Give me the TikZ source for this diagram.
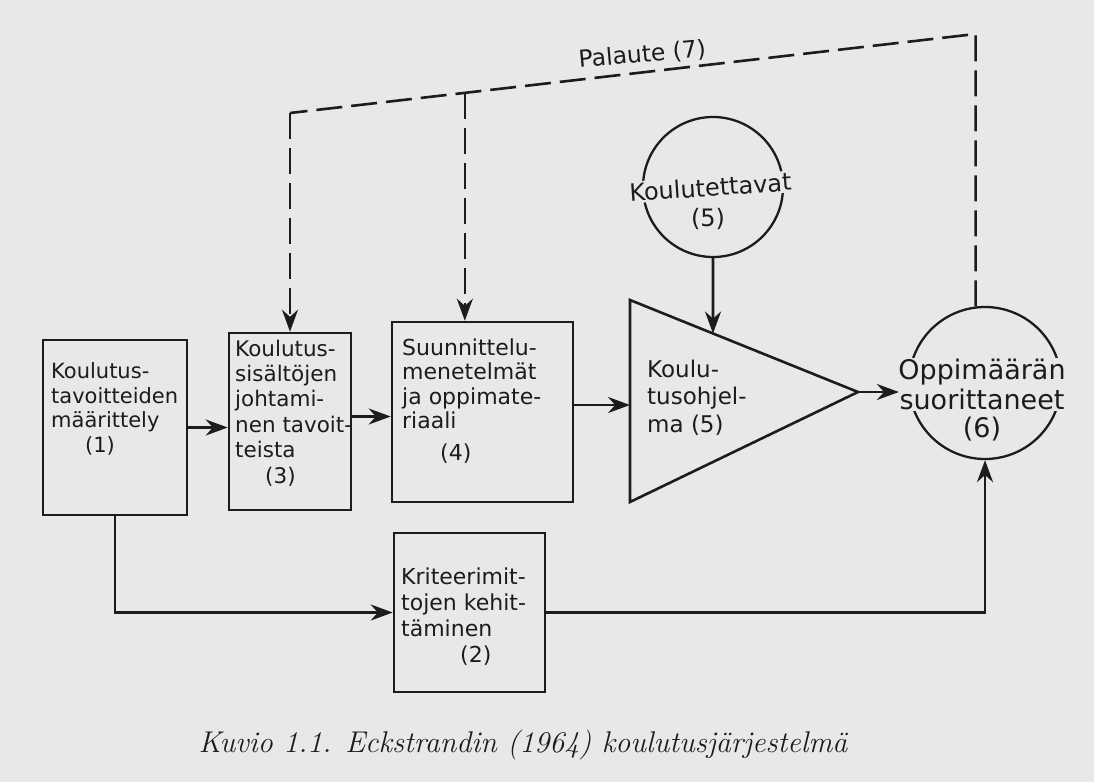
\documentclass[tikz,border=0pt]{standalone}
\usepackage{fontspec}
\newfontfamily\diagfont{DejaVu Sans}
\usepackage{tikz}
\usetikzlibrary{arrows.meta,calc}

\definecolor{paper}{RGB}{232,232,230}
\definecolor{ink}{RGB}{28,28,28}

\tikzset{
  box/.style={draw=ink, line width=2.6pt, inner sep=0pt},
  boxtext/.style={font=\diagfont\fontsize{22}{24.5}\selectfont, text=ink, align=left, inner sep=0pt, anchor=base west},
  arr/.style={draw=ink, line width=2.6pt, -{Stealth[length=22pt,width=16pt]}},
  fb/.style={draw=ink, line width=2.6pt, dash pattern=on 26pt off 9pt},
}

\begin{document}
\begin{tikzpicture}[x=1pt,y=-1pt]

\path[fill=paper] (0,0) rectangle (1094,782);
\useasboundingbox (0,0) rectangle (1094,782);

% boxes
\node[box, minimum width=144pt, minimum height=175pt] (box1) at (115,427.5) {};
\node[box, minimum width=122pt, minimum height=177pt] (box3) at (290,421.5) {};
\node[box, minimum width=181pt, minimum height=180pt] (box4) at (482.5,412) {};
\node[box, minimum width=151pt, minimum height=159pt] (box2) at (469.5,612.5) {};

% texts, placed at the baseline of their last line
\node[boxtext, font=\diagfont\fontsize{21}{24.5}\selectfont] (t1) at (51,452) {Koulutus-\\tavoitteiden\\määrittely\\\hspace*{34pt}(1)};
\node[boxtext, font=\diagfont\fontsize{21.5}{25.4}\selectfont] (t3) at (235,483) {Koulutus-\\sisältöjen\\johtami-\\nen tavoit-\\teista\\\hspace*{30pt}(3)};
\node[boxtext] (t4) at (402,460) {Suunnittelu-\\menetelmät\\ja oppimate-\\riaali\\[7pt]\hspace*{38pt}(4)};
\node[boxtext, font=\diagfont\fontsize{22}{25.7}\selectfont] (t2) at (401,662) {Kriteerimit-\\tojen kehit-\\täminen\\\hspace*{59pt}(2)};

% triangle
\coordinate (tritop) at (630,300);
\coordinate (tribot) at (630,502);
\coordinate (triapex) at (858,392);
\draw[ink, line width=2.6pt] (tritop) -- (triapex) -- (tribot) -- cycle;

\node[boxtext, font=\diagfont\fontsize{23}{27.5}\selectfont] (t5) at (647,432) {Koulu-\\tusohjel-\\ma (5)};

% circles
\node[circle, draw=ink, line width=2.3pt, minimum size=140pt, inner sep=0pt] (circ5) at (713,187) {};
\node[font=\diagfont\fontsize{24}{27}\selectfont, text=ink, fill=paper, inner sep=1.5pt, anchor=base, rotate=4] (t5a) at (711,196) {Koulutettavat};
\node[font=\diagfont\fontsize{24}{27}\selectfont, text=ink, anchor=base] (t5b) at (708,226) {(5)};

\node[circle, draw=ink, line width=2.3pt, minimum size=152pt, inner sep=0pt] (circ6) at (985,383) {};
\node[font=\diagfont\fontsize{27}{30}\selectfont, text=ink, fill=paper, inner sep=1pt, align=center, anchor=north] (t6a) at (982,358) {Oppimäärän\\suorittaneet};
\node[font=\diagfont\fontsize{27}{30}\selectfont, text=ink, anchor=base] (t6b) at (982,437) {(6)};

% connectors
\draw[arr] (box1.east) -- (box1.east -| box3.west);
\draw[arr] ([yshift=5pt]box3.east) -- ([yshift=5pt]box3.east -| box4.west);
\draw[arr] ([yshift=7pt]box4.east) -- ([yshift=7pt]box4.east -| tritop);
\draw[arr] (circ5.south) -- ($(tritop)!0.364!(triapex)$);
\draw[arr, shorten >=9pt] (triapex) -- (triapex -| circ6.west);
\draw[arr] (box1.south) |- (box2.west);
\draw[arr] (box2.east) -| (circ6.south);

% feedback
\coordinate (fbR) at (circ6.97 |- 0,34);
\coordinate (fbL) at (box3.north |- 0,113);
\coordinate (fbM) at ($(fbL)!0.255!(fbR)$);
\draw[fb] (circ6.97) -- (fbR) -- (fbL);
\draw[fb, -{Stealth[length=22pt,width=16pt]}] (fbL) -- (box3.north);
\draw[fb, -{Stealth[length=22pt,width=16pt]}] (fbM) -- (fbM |- box4.north);

\node[font=\diagfont\fontsize{23.5}{26}\selectfont, text=ink, anchor=base, rotate=5] (fblabel) at (643,62) {Palaute (7)};

\node[font=\fontsize{30}{33}\selectfont\itshape, text=ink, anchor=base west] (caption) at (195,752) {Kuvio 1.1. Eckstrandin (1964) koulutusjärjestelmä};

\end{tikzpicture}
\end{document}
